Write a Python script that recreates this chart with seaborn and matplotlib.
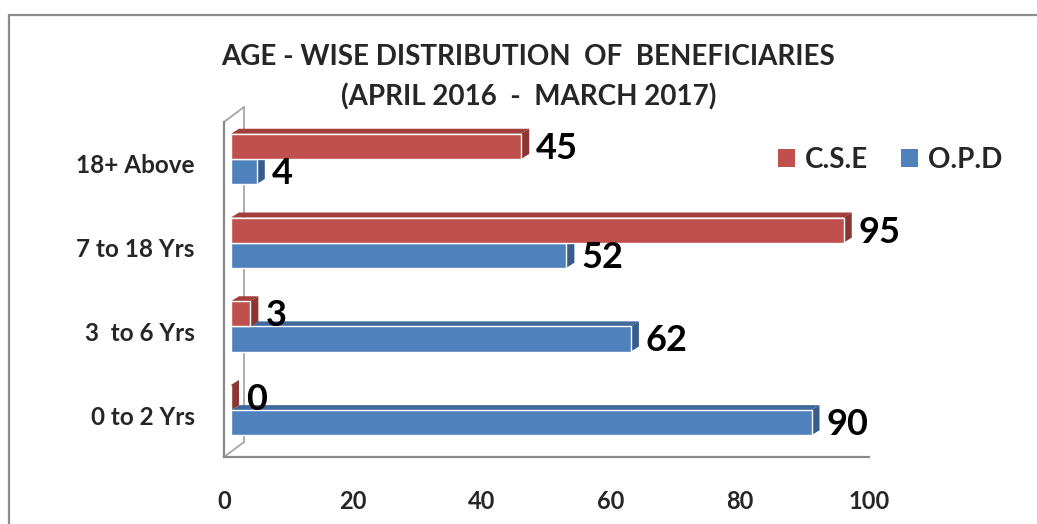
import matplotlib
matplotlib.use("Agg")
import matplotlib.pyplot as plt
import seaborn as sns
import pandas as pd
import numpy as np
from matplotlib.transforms import ScaledTranslation
from matplotlib.patches import Polygon, Rectangle
from matplotlib.lines import Line2D

# ---------------- data ----------------
categories = ["18+ Above", "7 to 18 Yrs", "3  to 6 Yrs", "0 to 2 Yrs"]
cse_values = [45, 95, 3, 0]
opd_values = [4, 52, 62, 90]
series_names = ["C.S.E", "O.P.D"]
x_ticks = [0, 20, 40, 60, 80, 100]
title_line1 = "AGE - WISE DISTRIBUTION  OF  BENEFICIARIES"
title_line2 = "(APRIL 2016  -  MARCH 2017)"

# ---------------- style ----------------
RED, BLUE = "#C0504D", "#4F81BD"
RED_TOP, BLUE_TOP = "#A23F3C", "#41699A"
RED_SIDE, BLUE_SIDE = "#8C3533", "#385D8A"
AXIS_GREY = "#8A8A8A"

sns.set_theme(style="white")
plt.rcParams["font.family"] = ["Lato", "DejaVu Sans"]
plt.rcParams["font.weight"] = "bold"

W, H = 1037, 524
fig = plt.figure(figsize=(W / 100, H / 100), dpi=100)
ax = fig.add_axes([224 / W, 67 / H, 645 / W, 335 / H])

df = pd.DataFrame({
    "Age": categories * 2,
    "Series": [series_names[0]] * len(categories) + [series_names[1]] * len(categories),
    "Value": cse_values + opd_values,
})

sns.barplot(data=df, y="Age", x="Value", hue="Series", order=categories,
            hue_order=series_names, palette=[RED, BLUE], width=0.6,
            orient="h", saturation=1, legend=False, ax=ax, errorbar=None)

ax.set_xlim(0, 100)
ax.set_ylim(len(categories) - 0.5, -0.5)
ax.set_xlabel("")
ax.set_ylabel("")

# ---- pseudo 3D ----
px = lambda dx, dy: ScaledTranslation(dx / 100, dy / 100, fig.dpi_scale_trans)
FRONT = (7, 5)
DEPTH = (8, 5)


def to_data(pt_disp):
    return ax.transData.inverted().transform(pt_disp)


series_values = [cse_values, opd_values]
face_cols = [(RED_TOP, RED_SIDE), (BLUE_TOP, BLUE_SIDE)]
zorders = [4, 3]
for ci, cont in enumerate(ax.containers):
    top_c, side_c = face_cols[ci]
    z = zorders[ci]
    for bar, val in zip(cont, series_values[ci]):
        x0, y0, w, h = bar.get_x(), bar.get_y(), bar.get_width(), bar.get_height()
        a = ax.transData.transform((x0, y0))
        b = ax.transData.transform((x0 + w, y0 + h))
        left, right = min(a[0], b[0]) + FRONT[0], max(a[0], b[0]) + FRONT[0]
        bot, top = min(a[1], b[1]) + FRONT[1], max(a[1], b[1]) + FRONT[1]
        dx, dy = DEPTH
        top_face = [to_data(p) for p in [(left, top), (right, top),
                                          (right + dx, top + dy), (left + dx, top + dy)]]
        end_face = [to_data(p) for p in [(right, bot), (right, top),
                                          (right + dx, top + dy), (right + dx, bot + dy)]]
        ax.add_patch(Polygon(top_face, closed=True, facecolor=top_c, edgecolor="none",
                             zorder=z, clip_on=False))
        ax.add_patch(Polygon(end_face, closed=True, facecolor=side_c, edgecolor="none",
                             zorder=z, clip_on=False))
        bar.set_transform(ax.transData + px(*FRONT))
        bar.set_zorder(z + 0.1)
        bar.set_clip_on(False)
        cy = y0 + h / 2
        ax.annotate(f"{val:g}", xy=(val, cy), xytext=(22, 3), textcoords="offset pixels",
                    ha="left", va="center", fontsize=26, fontweight="bold",
                    color="black", zorder=6)

# back wall lines
wall_off = (20, 15)
lo, hi = len(categories) - 0.5, -0.5
ax.add_line(Line2D([0, 0], [lo, hi], transform=ax.transData + px(*wall_off),
                   color="#A6A6A6", lw=1.3, zorder=1, clip_on=False))
for yv in (lo, hi):
    p0 = ax.transData.transform((0, yv))
    p1 = p0 + np.array(wall_off)
    d0, d1 = to_data(p0), to_data(p1)
    ax.add_line(Line2D([d0[0], d1[0]], [d0[1], d1[1]], color="#A6A6A6", lw=1.3,
                       zorder=1, clip_on=False))

# axes / ticks
for s in ["top", "right"]:
    ax.spines[s].set_visible(False)
for s in ["left", "bottom"]:
    ax.spines[s].set_color(AXIS_GREY)
    ax.spines[s].set_linewidth(1.6)

ax.set_xticks(x_ticks)
ax.set_xticklabels([str(t) for t in x_ticks])
ax.tick_params(axis="x", direction="out", length=6, width=1.6, color=AXIS_GREY,
               labelsize=17, pad=18)
ax.set_yticks(range(len(categories)))
ax.set_yticklabels(categories)
ax.set_yticks(np.arange(-0.5, len(categories), 1.0), minor=True)
ax.tick_params(axis="y", which="major", length=0, labelsize=17.5, pad=21)
ax.tick_params(axis="y", which="minor", direction="out", length=6, width=1.6,
               color=AXIS_GREY)
for lab in ax.get_xticklabels() + ax.get_yticklabels():
    lab.set_fontweight("bold")
ax.grid(False)

# legend
handles = [Rectangle((0, 0), 1, 1, facecolor=RED, edgecolor="none"),
           Rectangle((0, 0), 1, 1, facecolor=BLUE, edgecolor="none")]
fig.legend(handles, series_names, loc="center", bbox_to_anchor=(890 / W, 1 - 160 / H),
           ncol=2, frameon=False, prop={"size": 20, "weight": "bold"},
           handlelength=0.62, handleheight=0.62, handletextpad=0.33,
           columnspacing=1.2)

# title
fig.text(528 / W, 1 - 65 / H, title_line1, ha="center", va="baseline",
         fontsize=20, fontweight="bold")
fig.text(529 / W, 1 - 105 / H, title_line2, ha="center", va="baseline",
         fontsize=20, fontweight="bold")

# chart border
fig.patches.append(Rectangle((9 / W, -0.05), 1.2, (H - 15) / H + 0.05,
                             transform=fig.transFigure, fill=False,
                             edgecolor="#8C8C8C", lw=1.6, zorder=0))

fig.savefig("out.png", dpi=100)
